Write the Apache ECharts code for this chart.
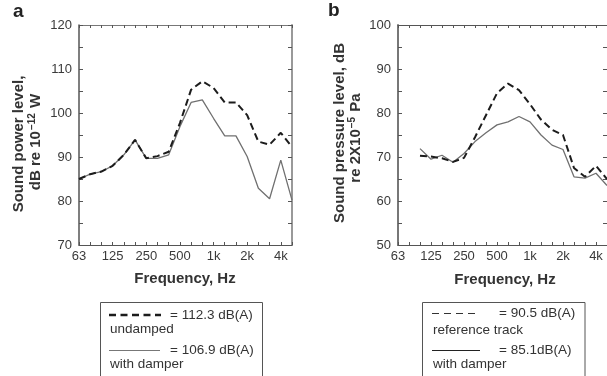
<!DOCTYPE html>
<html>
<head>
<meta charset="utf-8">
<script src="https://cdn.jsdelivr.net/npm/echarts@6/dist/echarts.min.js"></script>
<style>html,body{margin:0;padding:0;background:#fff}#c{width:607px;height:376px}</style>
</head>
<body>
<div id="c"></div>
<script>
// 1/3-octave band centre frequencies (Hz)
const freqs = ['63','80','100','125','160','200','250','315','400','500','630','800','1k','1.25k','1.6k','2k','2.5k','3.15k','4k','5k'];
const octaveLabels = ['63','125','250','500','1k','2k','4k'];
// Panel a: sound power level, dB re 1e-12 W
const aUndamped = [85.0, 86.1, 86.7, 88.0, 90.5, 93.9, 89.7, 90.2, 91.2, 97.7, 105.3, 107.2, 105.7, 102.4, 102.4, 99.5, 93.5, 92.8, 95.5, 92.3];
const aDamper   = [85.0, 86.1, 86.7, 88.0, 90.5, 93.9, 89.7, 89.7, 90.5, 96.9, 102.4, 103.0, 98.8, 94.8, 94.8, 90.1, 82.9, 80.5, 89.3, 80.2];
// Panel b: sound pressure level, dB re 2e-5 Pa
const bReference = [null, null, 70.3, 70.1, 69.7, 68.9, 69.8, 74.5, 79.5, 84.5, 86.7, 85.2, 82.0, 78.5, 76.2, 75.0, 67.5, 65.5, 68.0, 65.0];
const bDamper    = [null, null, 71.9, 69.5, 70.4, 68.8, 70.8, 73.5, 75.5, 77.3, 78.0, 79.2, 78.0, 75.0, 72.7, 71.7, 65.5, 65.2, 66.3, 63.5];
const aY = {min: 70, max: 120, step: 5};
const bY = {min: 50, max: 100, step: 5};

const FF = '"Liberation Sans", Arial, Helvetica, sans-serif';
const chart = echarts.init(document.getElementById('c'), null, {renderer: 'canvas'});

function xAx(grid, pos, showLabel, lineColor, lineWidth) {
  return {
    type: 'category', data: freqs, gridIndex: grid, position: pos, boundaryGap: false,
    axisLine: {show: true, lineStyle: {color: lineColor, width: lineWidth}},
    axisTick: {show: true, inside: true, length: 3, interval: 0, lineStyle: {color: '#555'}},
    axisLabel: {show: showLabel, interval: (i) => i % 3 === 0, margin: 5,
      formatter: (v) => octaveLabels.indexOf(v) >= 0 ? v : '',
      color: '#3a3a3a', fontSize: 13, fontFamily: FF},
    splitLine: {show: false}
  };
}
function yAx(grid, pos, showLabel, rng, lineColor, lineWidth) {
  return {
    type: 'value', gridIndex: grid, position: pos, min: rng.min, max: rng.max, interval: rng.step,
    axisLine: {show: true, lineStyle: {color: lineColor, width: lineWidth}},
    axisTick: {show: true, inside: true, length: 4, lineStyle: {color: '#555'}},
    axisLabel: {show: showLabel, margin: 7, color: '#3a3a3a', fontSize: 13, fontFamily: FF,
      formatter: (v) => (v % 10 === 0 ? String(v) : '')},
    splitLine: {show: false}
  };
}
function line(xi, yi, data, dashed, z) {
  return {
    type: 'line', xAxisIndex: xi, yAxisIndex: yi, data: data, showSymbol: false, symbol: 'none',
    connectNulls: false, z: z, silent: true,
    lineStyle: dashed ? {color: '#1c1c1c', width: 2, type: [7, 4]} : {color: '#707070', width: 1.3}
  };
}

const txt = (x, y, text, font, extra) => Object.assign({
  type: 'text', x: x, y: y, silent: true,
  style: {text: text, font: font, fill: '#333', align: 'left', verticalAlign: 'middle'}
}, extra || {});
const rot = (x, y, text, rich) => ({
  type: 'text', x: x, y: y, rotation: Math.PI / 2, silent: true,
  style: {text: text, fill: '#333', align: 'center', verticalAlign: 'middle',
    font: 'bold 15px ' + FF, rich: rich}
});
const richSup = {
  a: {fontSize: 15, fontWeight: 'bold', fontFamily: FF, lineHeight: 18, fill: '#333'},
  s: {fontSize: 10, fontWeight: 'bold', fontFamily: FF, lineHeight: 18, verticalAlign: 'top', fill: '#333', padding: [0, 1, 0, 1]}
};
const LF = '13.5px ' + FF;

const option = {
  animation: false,
  grid: [
    {left: 79, top: 25, width: 213, height: 220, show: false},
    {left: 398, top: 25, width: 213, height: 220, show: false}
  ],
  xAxis: [
    xAx(0, 'bottom', true, '#555', 1.2),
    xAx(0, 'top', false, '#777', 1),
    xAx(1, 'bottom', true, '#555', 1.2),
    xAx(1, 'top', false, '#555', 1)
  ],
  yAxis: [
    yAx(0, 'left', true, aY, '#555', 1.5),
    yAx(0, 'right', false, aY, '#999', 2),
    yAx(1, 'left', true, bY, '#777', 2),
    yAx(1, 'right', false, bY, '#999', 1)
  ],
  series: [
    line(0, 0, aDamper, false, 2),
    line(0, 0, aUndamped, true, 3),
    line(2, 2, bDamper, false, 2),
    line(2, 2, bReference, true, 3)
  ],
  graphic: [
    txt(13, 12, 'a', 'bold 19px ' + FF, {style: {text: 'a', font: 'bold 19px ' + FF, fill: '#222', align: 'left', verticalAlign: 'middle'}}),
    txt(328, 11, 'b', 'bold 19px ' + FF, {style: {text: 'b', font: 'bold 19px ' + FF, fill: '#222', align: 'left', verticalAlign: 'middle'}}),
    txt(185, 279, 'Frequency, Hz', 'bold 15px ' + FF, {style: {text: 'Frequency, Hz', font: 'bold 15px ' + FF, fill: '#333', align: 'center', verticalAlign: 'middle'}}),
    txt(505, 280, 'Frequency, Hz', 'bold 15px ' + FF, {style: {text: 'Frequency, Hz', font: 'bold 15px ' + FF, fill: '#333', align: 'center', verticalAlign: 'middle'}}),
    rot(18.5, 144, '{a|Sound power level,}', richSup),
    rot(36, 142, '{a|dB re 10}{s|\u221212}{a| W}', richSup),
    rot(340, 133, '{a|Sound pressure level, dB}', richSup),
    rot(356, 138, '{a|re 2X10}{s|\u22125}{a| Pa}', richSup),
    // legend a
    {type: 'rect', silent: true, shape: {x: 100.5, y: 302.5, width: 162, height: 90},
      style: {fill: 'none', stroke: '#555', lineWidth: 1}},
    {type: 'line', silent: true, shape: {x1: 109, y1: 315, x2: 161, y2: 315},
      style: {stroke: '#1c1c1c', lineWidth: 2.5, lineDash: [7, 4.5]}},
    txt(170, 315, '= 112.3 dB(A)', LF),
    txt(110, 329, 'undamped', LF),
    {type: 'line', silent: true, shape: {x1: 109, y1: 350.5, x2: 160, y2: 350.5},
      style: {stroke: '#777', lineWidth: 1}},
    txt(170, 350, '= 106.9 dB(A)', LF),
    txt(110, 364, 'with damper', LF),
    // legend b
    {type: 'rect', silent: true, shape: {x: 422.5, y: 302.5, width: 162.5, height: 90},
      style: {fill: 'none', stroke: '#555', lineWidth: 1}},
    {type: 'line', silent: true, shape: {x1: 432, y1: 313.5, x2: 480, y2: 313.5},
      style: {stroke: '#333', lineWidth: 1.2, lineDash: [7, 5]}},
    txt(499, 313, '= 90.5 dB(A)', LF),
    txt(433, 330, 'reference track', LF),
    {type: 'line', silent: true, shape: {x1: 432, y1: 350.5, x2: 480, y2: 350.5},
      style: {stroke: '#222', lineWidth: 1}},
    txt(499, 350, '= 85.1dB(A)', LF),
    txt(433, 364, 'with damper', LF)
  ]
};
chart.setOption(option);
</script>
</body>
</html>
